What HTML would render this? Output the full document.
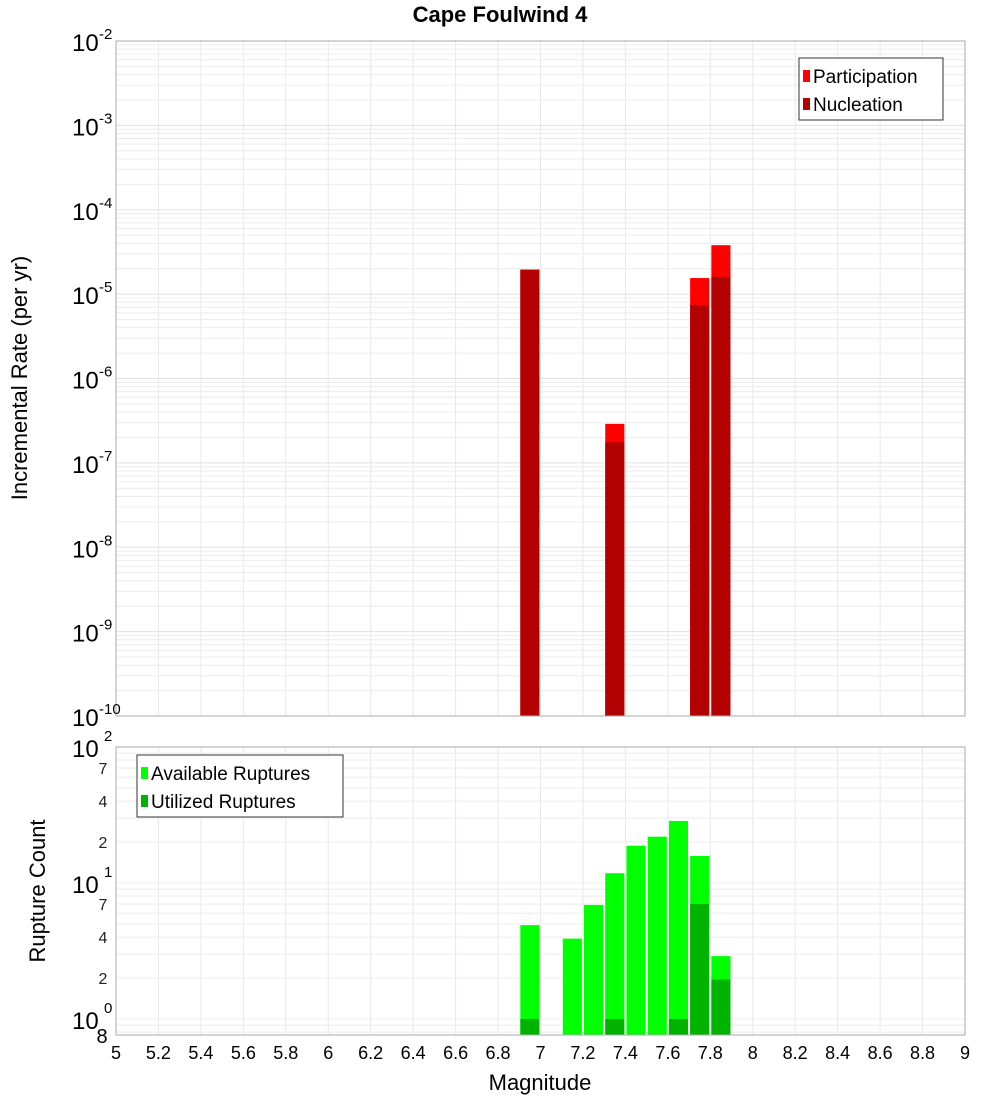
<!DOCTYPE html>
<html><head><meta charset="utf-8"><style>
body{margin:0;background:#fff;}
svg{display:block;font-family:"Liberation Sans","DejaVu Sans",sans-serif;}
</style></head><body>
<svg id="c" width="1000" height="1100" xmlns="http://www.w3.org/2000/svg">
<text x="500" y="22" text-anchor="middle" font-size="22" font-weight="bold">Cape Foulwind 4</text>
<g id="topg"></g>
<g id="botg"></g>
<text transform="translate(27,378) rotate(-90)" text-anchor="middle" font-size="22">Incremental Rate (per yr)</text>
<text transform="translate(45,891) rotate(-90)" text-anchor="middle" font-size="22">Rupture Count</text>
<text x="540" y="1090" text-anchor="middle" font-size="22">Magnitude</text>
</svg>
<script>
const rateMags=[6.95,7.35,7.75,7.85];
const participation=[1.95e-5,2.9e-7,1.55e-5,3.8e-5];
const nucleation=[1.95e-5,1.75e-7,7.4e-6,1.6e-5];
const countMags=[6.95,7.15,7.25,7.35,7.45,7.55,7.65,7.75,7.85];
const available=[4.9,3.9,6.9,11.8,18.8,21.9,28.6,15.8,2.9];
const utilized=[1,0,0,1,0,0,1,7,1.95];
const xTicks=["5","5.2","5.4","5.6","5.8","6","6.2","6.4","6.6","6.8","7","7.2","7.4","7.6","7.8","8","8.2","8.4","8.6","8.8","9"];
const rateExps=[-2,-3,-4,-5,-6,-7,-8,-9,-10];
const countMinor=["2","4","7"];

const NS="http://www.w3.org/2000/svg";
const L=116,R=965;
const x=m=>L+(m-5)/4*(R-L);
const yT=v=>41+(-2-Math.log10(v))*84.375;
const yB=v=>747+(2-Math.log10(v))*136;
function mk(p,t,a){const e=document.createElementNS(NS,t);for(const k in a)e.setAttribute(k,a[k]);p.appendChild(e);return e;}
const gTop=document.getElementById('topg'),gBot=document.getElementById('botg');

function frame(g,y0,y1){
  for(let i=0;i<xTicks.length;i++){const xx=x(+xTicks[i]);
    const l=mk(g,'line',{x1:xx,x2:xx,y1:y0,y2:y1,stroke:'#e8e8e8'});
    
    }
}
frame(gTop,41,716);
for(let e=-10;e<-2;e++)for(let k=1;k<10;k++){const yy=yT(k*Math.pow(10,e));
  const l=mk(gTop,'line',{x1:L,x2:R,y1:yy,y2:yy,stroke:k==1?'#e0e0e0':'#ececec'});
  
  }
frame(gBot,747,1035);
for(let e=-1;e<2;e++)for(let k=1;k<10;k++){const yy=yB(k*Math.pow(10,e));if(yy>1035)continue;
  const l=mk(gBot,'line',{x1:L,x2:R,y1:yy,y2:yy,stroke:'#ececec'});
  
  }

const bw=x(5.09)-x(5);
for(let i=0;i<rateMags.length;i++){const x0=x(rateMags[i])-bw/2;
  const b=mk(gTop,'rect',{x:x0,y:yT(participation[i]),width:bw,height:716-yT(participation[i]),fill:'#ff0000'});
  
  
  const n=mk(gTop,'rect',{x:x0,y:yT(nucleation[i]),width:bw,height:716-yT(nucleation[i]),fill:'#b30000'});
  
  }
for(let i=0;i<countMags.length;i++){const x0=x(countMags[i])-bw/2;
  const b=mk(gBot,'rect',{x:x0,y:yB(available[i]),width:bw,height:1035-yB(available[i]),fill:'#00ff00'});
  
  
  if(utilized[i]>0){const u=mk(gBot,'rect',{x:x0,y:yB(utilized[i]),width:bw,height:1035-yB(utilized[i]),fill:'#00b300'});
  
  }}

const f1=mk(gTop,'rect',{x:L,y:41,width:R-L,height:675,fill:'none',stroke:'#aaa'});


const f2=mk(gBot,'rect',{x:L,y:747,width:R-L,height:288,fill:'none',stroke:'#aaa'});



for(const e of rateExps){const yy=yT(Math.pow(10,e));
  const t=mk(gTop,'text',{x:72,y:yy+10,'font-size':24});t.textContent='10';
  
  
  const s=mk(gTop,'text',{x:99,y:yy-2,'font-size':15});s.textContent=String(e);
  
  }
for(const e of [2,1,0]){const yy=yB(Math.pow(10,e));
  const t=mk(gBot,'text',{x:72,y:yy+10,'font-size':24});t.textContent='10';
  
  
  const s=mk(gBot,'text',{x:104,y:yy-6,'font-size':15});s.textContent=String(e);
  
  }
for(const e of [0,1])for(const m of countMinor){const yy=yB(+m*Math.pow(10,e));
  const t=mk(gBot,'text',{x:103,y:yy+6,'font-size':16,'text-anchor':'middle',fill:'#222'});t.textContent=m;
  
  }
{const t=mk(gBot,'text',{x:102,y:1043,'font-size':20,'text-anchor':'middle'});t.textContent='8';

}
for(const tk of xTicks){const t=mk(gBot,'text',{x:x(+tk),y:1059,'font-size':18,'text-anchor':'middle'});t.textContent=tk;
  
  }

function legend(g,x0,y0,w,items,name){
  const bx=mk(g,'rect',{x:x0,y:y0,width:w,height:62,fill:'#fff',stroke:'#333'});
  
  
  items.forEach((it,i)=>{const yy=y0+18+i*28;
    const sw=mk(g,'rect',{x:x0+4,y:yy-6,width:7,height:12,fill:it[1]});
    
    
    const t=mk(g,'text',{x:x0+14,y:yy+7,'font-size':19});t.textContent=it[0];
    
    });
}
legend(gTop,799,58,144,[['Participation','#ff0000'],['Nucleation','#b30000']],'rate-legend');
legend(gBot,137,755,206,[['Available Ruptures','#00ff00'],['Utilized Ruptures','#00b300']],'count-legend');
</script>
</body></html>
